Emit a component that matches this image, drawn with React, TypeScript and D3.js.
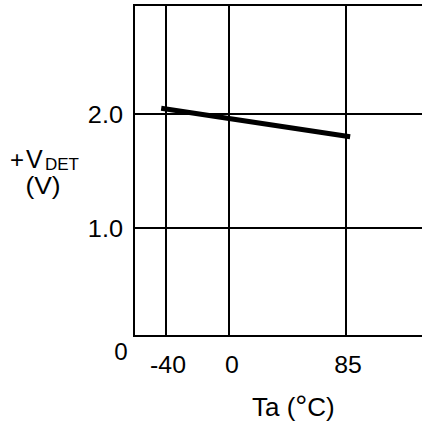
import React from "react";
import * as d3 from "d3";

const tempTicks = [-40, 0, 85];
const voltTicks = [1.0, 2.0];
const tempData = [-43, 0, 88];
const voltData = [2.05, 1.96, 1.8];

const W = 422;
const H = 423;

export default function App() {
  // piecewise linear scales
  const x = d3.scaleLinear().domain([-60, -40, 0, 85, 140]).range([134, 166, 229, 346, 422]);
  const y = d3.scaleLinear().domain([0, 1, 2, 2.96]).range([336, 228, 114, 5]);
  const line = d3
    .line<number>()
    .x((_, i) => x(tempData[i]))
    .y((d) => y(d));
  const font = "'Liberation Sans', Arial, sans-serif";
  const x0 = x(-60);
  const x1 = W;
  const yb = y(0);
  const yt = y(2.96);
  const T = (px: number, py: number, sx: number) => `translate(${px},${py}) scale(${sx},1)`;
  const tickDx: Record<number, number> = { [-40]: 2, 0: 3, 85: 2 };
  return (
    <svg width={W} height={H} style={{ position: "absolute", left: 0, top: 0, background: "#fff" }}>
      <g stroke="#000" strokeWidth={2} fill="none">
        <line x1={x0} x2={x0} y1={yt} y2={yb} />
        <line x1={x0 - 1} x2={x1} y1={yt} y2={yt} />
        <line x1={x0 - 1} x2={x1} y1={yb} y2={yb} />
        {voltTicks.map((v) => (
          <line key={v} x1={x0} x2={x1} y1={y(v)} y2={y(v)} />
        ))}
        {tempTicks.map((t) => (
          <line key={t} x1={x(t)} x2={x(t)} y1={yt} y2={yb} />
        ))}
      </g>
      <path d={line(voltData) || ""} stroke="#000" strokeWidth={5} fill="none" />
      <g fontFamily={font} fontSize={23} fill="#000">
        {voltTicks.map((v) => (
          <text key={v} transform={T(123, y(v) + 9, 1.1)} textAnchor="end">
            {v.toFixed(1)}
          </text>
        ))}
        <text transform={T(121, 360, 1.05)} textAnchor="middle">0</text>
        {tempTicks.map((t) => (
          <text key={t} transform={T(x(t) + tickDx[t], 373, 1.08)} textAnchor="middle">
            {t}
          </text>
        ))}
        <text x={252} y={416} fontSize={26}>
          Ta (<tspan fontSize={30}>°</tspan>C)
        </text>
        <text x={10} y={168} fontSize={24}>
          +<tspan x={26} fontSize={25}>V</tspan>
          <tspan x={45} fontSize={17} dy={2}>DET</tspan>
        </text>
        <text transform={T(43, 194, 1.1)} textAnchor="middle" fontSize={24}>
          (V)
        </text>
      </g>
    </svg>
  );
}
